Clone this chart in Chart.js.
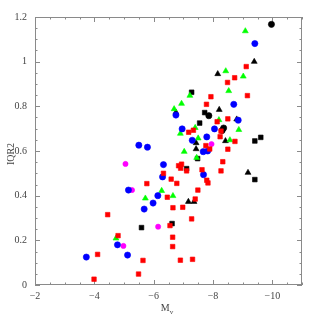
<!DOCTYPE html>
<html><head><meta charset="utf-8">
<script src="https://cdn.jsdelivr.net/npm/chart.js@4/dist/chart.umd.min.js"></script>
<style>html,body{margin:0;padding:0;background:#fff;}#wrap{width:319px;height:319px;}</style>
</head><body><div id="wrap"><canvas id="c" width="319" height="319"></canvas></div>
<script>
const xTickValues = [-2, -4, -6, -8, -10];
const yTickValues = [0, 0.2, 0.4, 0.6, 0.8, 1, 1.2];
const xTitle = "M";
const xTitleSub = "v";
const yTitle = "IQR2";

const redX = [-5.77,-4.45,-4.80,-4.11,-5.64,-5.49,-3.99,-6.84,-6.94,-6.91,-7.11,-7.63,-6.33,-6.59,-6.78,-7.79,-7.83,-7.49,-6.46,-7.40,-6.65,-6.98,-7.28,-6.55,-6.64,-6.64,-6.90,-7.31,-7.76,-7.89,-8.50,-8.74,-8.33,-8.27,-9.12,-8.73,-8.49,-9.16,-7.93,-7.78,-8.50,-8.14,-8.27,-7.18,-7.34,-8.24];
const redY = [0.454,0.315,0.221,0.137,0.110,0.049,0.026,0.534,0.541,0.523,0.511,0.516,0.500,0.474,0.455,0.469,0.457,0.425,0.393,0.385,0.346,0.348,0.296,0.266,0.214,0.172,0.111,0.115,0.624,0.609,0.608,0.643,0.552,0.511,0.978,0.928,0.907,0.848,0.843,0.809,0.744,0.731,0.689,0.684,0.693,0.664];

const blueX = [-3.73,-4.78,-5.12,-5.15,-5.68,-5.98,-5.50,-5.79,-6.33,-6.30,-6.14,-7.68,-6.75,-6.96,-7.30,-7.79,-8.05,-7.67,-7.82,-9.41,-8.70,-8.85];
const blueY = [0.125,0.180,0.134,0.425,0.340,0.367,0.626,0.617,0.539,0.484,0.400,0.494,0.761,0.699,0.648,0.663,0.699,0.597,0.600,1.081,0.809,0.738];

const magentaX = [-5.05,-5.27,-4.98,-6.15,-7.95];
const magentaY = [0.542,0.425,0.175,0.261,0.631];

const greenX = [-5.72,-4.73,-6.27,-6.65,-7.03,-7.22,-6.94,-6.69,-7.40,-6.90,-7.50,-8.20,-9.09,-8.43,-9.02,-8.53,-8.87,-8.57,-7.45];
const greenY = [0.388,0.209,0.422,0.399,0.597,0.848,0.812,0.788,0.704,0.678,0.657,0.739,1.137,0.958,0.934,0.869,0.695,0.649,0.570];

const blackTriX = [-7.43,-7.43,-7.17,-7.36,-9.39,-8.16,-8.21,-8.42,-6.75,-9.18,-8.80];
const blackTriY = [0.636,0.609,0.373,0.373,1.000,0.945,0.785,0.645,0.773,0.503,0.742];

const blackSqX = [-5.59,-6.62,-7.11,-7.48,-7.28,-7.72,-7.55,-9.61,-9.41,-9.41];
const blackSqY = [0.257,0.275,0.521,0.566,0.863,0.772,0.725,0.661,0.645,0.472];

const blackCircX = [-9.97,-7.86,-8.31,-8.36];
const blackCircY = [1.167,0.758,0.692,0.703];

function pts(xs, ys){ return xs.map((x,i)=>({x:x, y:ys[i]})); }
function ds(xs, ys, color, style, r){
  return {data: pts(xs,ys), pointStyle: style, pointRadius: r, pointHoverRadius: r,
    backgroundColor: color, borderColor: color, borderWidth: 0.6, showLine: false};
}

const FONT = '"Liberation Serif", "DejaVu Serif", serif';

const framePlugin = {
  id: 'frame',
  beforeDatasetsDraw(chart){
    const ctx = chart.ctx, a = chart.chartArea;
    const xs = chart.scales.x, ys = chart.scales.y;
    ctx.save();
    ctx.strokeStyle = '#8a8a8a';
    ctx.lineWidth = 1;
    ctx.strokeRect(a.left+0.5, a.top+0.5, a.right-a.left-1, a.bottom-a.top-1);
    ctx.beginPath();
    for (let v = -2; v >= -11.001; v -= 0.5) {
      const major = xTickValues.some(t => Math.abs(t - v) < 1e-6);
      const L = major ? 5 : 2.5;
      const px = Math.round(xs.getPixelForValue(v)) + 0.5;
      ctx.moveTo(px, a.bottom); ctx.lineTo(px, a.bottom - L);
      ctx.moveTo(px, a.top); ctx.lineTo(px, a.top + L);
    }
    for (let v = 0; v <= 1.2001; v += 0.05) {
      const major = yTickValues.some(t => Math.abs(t - v) < 1e-6);
      const L = major ? 5 : 2.5;
      const py = Math.round(ys.getPixelForValue(v)) + 0.5;
      ctx.moveTo(a.left, py); ctx.lineTo(a.left + L, py);
      ctx.moveTo(a.right, py); ctx.lineTo(a.right - L, py);
    }
    ctx.stroke();
    ctx.restore();
  },
  afterDraw(chart){
    const ctx = chart.ctx, a = chart.chartArea;
    ctx.save();
    ctx.fillStyle = '#444';
    // y title
    ctx.font = '10px ' + FONT;
    ctx.textAlign = 'center';
    ctx.textBaseline = 'middle';
    ctx.translate(11, (a.top + a.bottom)/2 + 3);
    ctx.rotate(-Math.PI/2);
    ctx.fillText(yTitle, 0, 0);
    ctx.restore();
    ctx.save();
    ctx.fillStyle = '#444';
    ctx.font = '10px ' + FONT;
    ctx.textAlign = 'left';
    ctx.textBaseline = 'alphabetic';
    const cx = 167;
    const mw = ctx.measureText(xTitle).width;
    ctx.font = '7px ' + FONT;
    const vw = ctx.measureText(xTitleSub).width;
    const start = cx - (mw + vw)/2;
    ctx.font = '10px ' + FONT;
    ctx.fillText(xTitle, start, 311);
    ctx.font = '7px ' + FONT;
    ctx.fillText(xTitleSub, start + mw, 314);
    ctx.restore();
  }
};

new Chart(document.getElementById('c'), {
  type: 'scatter',
  data: {
    datasets: [
      ds(redX, redY, '#ff0000', 'rect', 3.2),
      ds(blueX, blueY, '#0000ff', 'circle', 3.1),
      ds(magentaX, magentaY, '#ff00ff', 'circle', 2.6),
      ds(greenX, greenY, '#00ff00', 'triangle', 3.4),
      ds(blackSqX, blackSqY, '#000000', 'rect', 3.3),
      ds(blackTriX, blackTriY, '#000000', 'triangle', 3.4),
      ds(blackCircX, blackCircY, '#000000', 'circle', 3.1)
    ]
  },
  options: {
    responsive: false,
    animation: false,
    devicePixelRatio: 1,
    layout: {padding: {left: 0, right: 17, top: 17, bottom: 0}},
    plugins: {legend: {display: false}, tooltip: {enabled: false}},
    scales: {
      x: {
        type: 'linear', reverse: true, min: -11, max: -2,
        afterBuildTicks(s){ s.ticks = xTickValues.map(v => ({value: v})); },
        afterFit(s){ s.height = 34; },
        grid: {display: false, drawTicks: false},
        border: {display: false},
        title: {display: false},
        ticks: {
          padding: 5, color: '#444', font: {family: FONT, size: 10},
          callback: v => (v < 0 ? '\u2212' + Math.abs(v) : String(v)),
          maxRotation: 0, autoSkip: false
        }
      },
      y: {
        type: 'linear', min: 0, max: 1.2,
        afterBuildTicks(s){ s.ticks = yTickValues.map(v => ({value: v})); },
        afterFit(s){ s.width = 35; },
        grid: {display: false, drawTicks: false},
        border: {display: false},
        title: {display: false},
        ticks: {
          padding: 8, color: '#444', font: {family: FONT, size: 10},
          callback: v => String(Math.round(v*10)/10),
          autoSkip: false
        }
      }
    }
  },
  plugins: [framePlugin]
});
</script>
</body></html>
